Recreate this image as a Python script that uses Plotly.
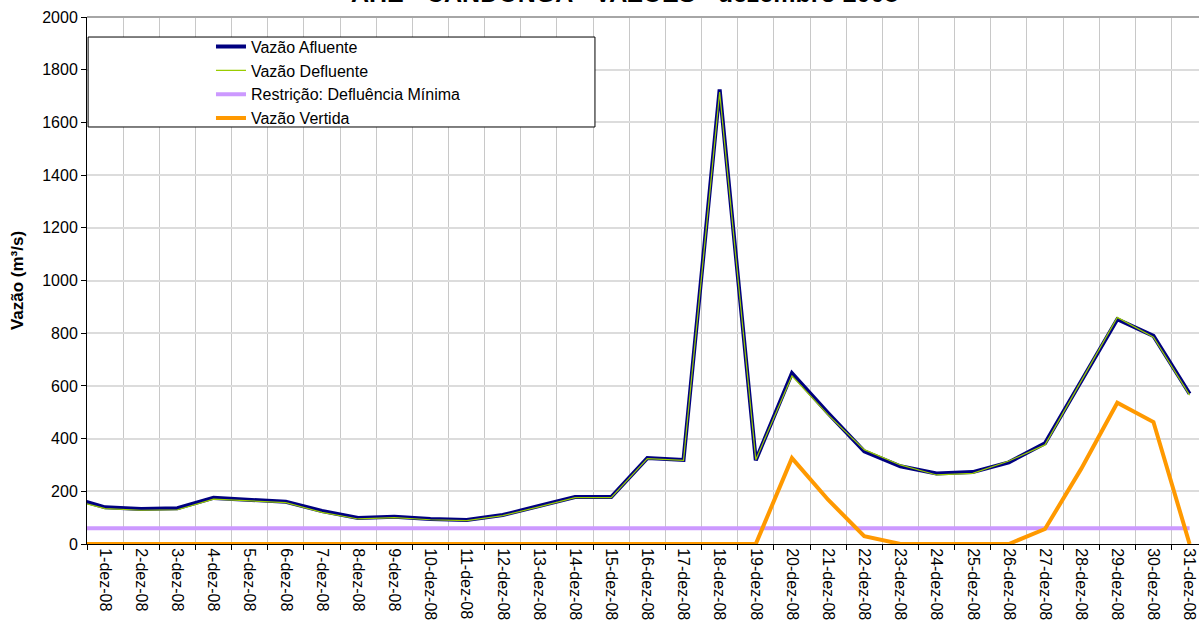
import plotly.graph_objects as go

# Daily labels; the first entry is the last day of the previous month
dias = ["30-nov-08"] + [f"{d}-dez-08" for d in range(1, 32)]

vazao_afluente = [179, 139, 133, 136, 175, 167, 160, 125, 99, 103, 95, 91,
                  110, 144, 178, 178, 326, 319, 1725, 318, 648, 497, 352,
                  295, 268, 273, 310, 382, 615, 853, 790, 570]
vazao_defluente = [170, 134, 128, 130, 170, 164, 157, 120, 95, 100, 92, 89,
                   108, 141, 176, 176, 324, 317, 1715, 320, 638, 490, 358,
                   300, 262, 268, 315, 376, 620, 860, 785, 565]
defluencia_minima = [60] * len(dias)
vazao_vertida = [0, 0, 0, 0, 0, 0, 0, 0, 0, 0, 0, 0, 0, 0, 0, 0, 0, 0, 0, 0,
                 326, 168, 30, 0, 0, 0, 0, 57, 285, 536, 463, 0]

FONT = "Liberation Sans, Arial, sans-serif"

fig = go.Figure()
fig.add_trace(go.Scatter(x=dias, y=vazao_afluente, mode="lines",
                         name="Vazão Afluente",
                         line=dict(color="#000080", width=4)))
fig.add_trace(go.Scatter(x=dias, y=vazao_defluente, mode="lines",
                         name="Vazão Defluente",
                         line=dict(color="#99cc00", width=1.2)))
fig.add_trace(go.Scatter(x=dias, y=defluencia_minima, mode="lines",
                         name="Restrição: Defluência Mínima",
                         line=dict(color="#cc99ff", width=4)))
fig.add_trace(go.Scatter(x=dias, y=vazao_vertida, mode="lines",
                         name="Vazão Vertida",
                         line=dict(color="#ff9900", width=4)))

fig.update_layout(
    width=1199, height=632,
    margin=dict(l=87, r=0, t=17, b=88, pad=0),
    paper_bgcolor="white", plot_bgcolor="white",
    font=dict(family=FONT, size=16, color="black"),
    showlegend=True,
    legend=dict(x=0.1115, xanchor="left", y=0.976, yanchor="top",
                bgcolor="rgba(0,0,0,0)", borderwidth=0,
                font=dict(family=FONT, size=16, color="black"),
                tracegroupgap=0),
    xaxis=dict(type="category", range=[0.5, 31.26], tickson="boundaries",
               ticks="outside", ticklen=5, tickcolor="black",
               showline=True, linecolor="black", linewidth=1,
               showgrid=True, gridcolor="#c8c8c8", gridwidth=1,
               tickangle=90, tickfont=dict(size=16), automargin=False,
               zeroline=False),
    yaxis=dict(range=[0, 2000], dtick=200, tick0=0,
               ticks="outside", ticklen=5, tickcolor="black",
               showline=True, linecolor="black", linewidth=1,
               showgrid=True, gridcolor="#dcdcdc", gridwidth=2,
               tickfont=dict(size=16), automargin=False, zeroline=False,
               title=dict(text="<b>Vazão (m³/s)</b>", font=dict(size=17),
                          standoff=14)),
    shapes=[
        # top frame line of the plot area
        dict(type="line", xref="paper", yref="paper", x0=0, x1=1, y0=1, y1=1,
             line=dict(color="#a6a6a6", width=2)),
        # legend frame
        dict(type="rect", xref="paper", yref="paper",
             x0=0.001, x1=0.4568, y0=0.7913, y1=0.962,
             fillcolor="white", line=dict(color="black", width=1),
             layer="above"),
    ],
    annotations=[
        dict(text="<b>AHE - CANDONGA - VAZÕES - dezembro 2008</b>",
             xref="paper", yref="paper", x=0.483, y=1.0152,
             xanchor="center", yanchor="bottom", showarrow=False,
             font=dict(family=FONT, size=25, color="black")),
    ],
)

fig.write_html("out.html")
